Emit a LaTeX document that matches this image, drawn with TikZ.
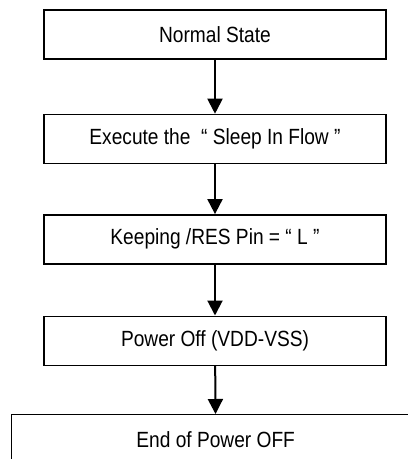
\documentclass[tikz,border=0pt]{standalone}
\usepackage{fontspec}
\setmainfont{Liberation Sans}[FakeStretch=0.87]
\usepackage{tikz}
\usetikzlibrary{arrows.meta,positioning}

\begin{document}
\begin{tikzpicture}[x=1pt,y=-1pt,
    flowbox/.style={draw,line width=1.4pt,minimum width=342pt,minimum height=49pt,
      inner sep=0pt,font=\fontsize{22}{26}\selectfont},
    flowarrow/.style={line width=2pt,-{Triangle[length=15pt,width=15pt]}}]
  \useasboundingbox (0,0) rectangle (408,459);
  \clip (0,0) rectangle (408,459);
  % pasos del flujo de apagado
  \node[flowbox] (normal) at (215,34.5) {Normal State};
  \node[flowbox,below=54pt of normal] (sleepin) {Execute the\ \ “\ Sleep In Flow\ ”};
  \node[flowbox,below=50pt of sleepin] (keepres) {Keeping /RES Pin = “ L ”};
  \node[flowbox,below=51pt of keepres] (poweroff) {Power Off (VDD-VSS)};
  \node[flowbox,minimum width=408pt,minimum height=50pt,anchor=north west] (endoff)
    at (11,414) {End of Power OFF};
  \foreach \a/\b in {normal/sleepin,sleepin/keepres,keepres/poweroff,poweroff/endoff}
    \draw[flowarrow] (\a) -- (\b);
\end{tikzpicture}
\end{document}
